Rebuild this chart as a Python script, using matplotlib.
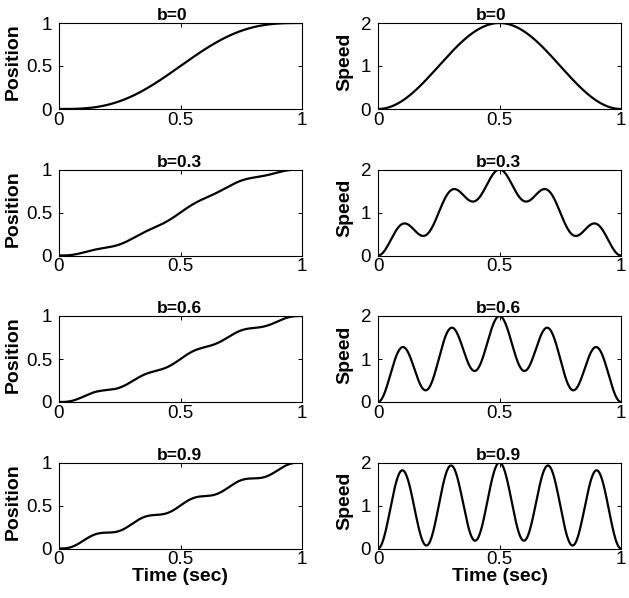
import numpy as np
import matplotlib
matplotlib.use('Agg')
import matplotlib.pyplot as plt

plt.rcParams['font.family'] = ['Liberation Sans', 'DejaVu Sans']

# blend factor of each row, the harmonic of the ripple and the time span
b_values = [0, 0.3, 0.6, 0.9]
harmonic = 5
t_span = [0, 1]
n_samples = 600

xticks = [0, 0.5, 1]
xtick_labels = ['0', '0.5', '1']
pos_ticks = [0, 0.5, 1]
pos_tick_labels = ['0', '0.5', '1']
speed_ticks = [0, 1, 2]
speed_tick_labels = ['0', '1', '2']

t = np.linspace(t_span[0], t_span[1], n_samples)

def speed(t, b):
    return (1 - b) * (1 - np.cos(2 * np.pi * t)) + b * (1 - np.cos(2 * np.pi * harmonic * t))

def position(t, b):
    base = t - np.sin(2 * np.pi * t) / (2 * np.pi)
    ripple = t - np.sin(2 * np.pi * harmonic * t) / (2 * np.pi * harmonic)
    return (1 - b) * base + b * ripple

fig = plt.figure(figsize=(6.29, 5.98), dpi=100)
W, H = 629, 598
col_left = [59, 378]
ax_w = 243
ax_h = 86
row_top = [23, 169.5, 316, 462.5]

def style(ax, yticks, ylabels, ylabel, label_x, title):
    ax.set_xlim(0, 1)
    ax.set_xticks(xticks)
    ax.set_xticklabels(xtick_labels)
    ax.set_yticks(yticks)
    ax.set_yticklabels(ylabels)
    ax.tick_params(direction='in', length=3, width=0.7, top=True, right=True,
                   labelsize=13.5)
    ax.tick_params(axis='x', pad=2)
    ax.tick_params(axis='y', pad=5)
    for sp in ax.spines.values():
        sp.set_linewidth(0.8)
    ax.set_ylabel(ylabel, fontsize=14, fontweight='bold')
    ax.yaxis.set_label_coords(label_x, 0.55)
    ax.set_title(title, fontsize=12.5, fontweight='bold', x=0.402, ha='left', pad=2)

for i, b in enumerate(b_values):
    bottom = 1 - (row_top[i] + ax_h) / H
    title = 'b=%g' % b

    ax = fig.add_axes([col_left[0] / W, bottom, ax_w / W, ax_h / H])
    ax.plot(t, position(t, b), color='black', lw=1.6)
    ax.set_ylim(0, 1)
    style(ax, pos_ticks, pos_tick_labels, 'Position', -0.155, title)
    if i == len(b_values) - 1:
        ax.set_xlabel('Time (sec)', fontsize=14, fontweight='bold', labelpad=0)

    ax = fig.add_axes([col_left[1] / W, bottom, ax_w / W, ax_h / H])
    ax.plot(t, speed(t, b), color='black', lw=1.6)
    ax.set_ylim(0, 2)
    style(ax, speed_ticks, speed_tick_labels, 'Speed', -0.102, title)
    if i == len(b_values) - 1:
        ax.set_xlabel('Time (sec)', fontsize=14, fontweight='bold', labelpad=0)

fig.savefig('out.png', dpi=100)
